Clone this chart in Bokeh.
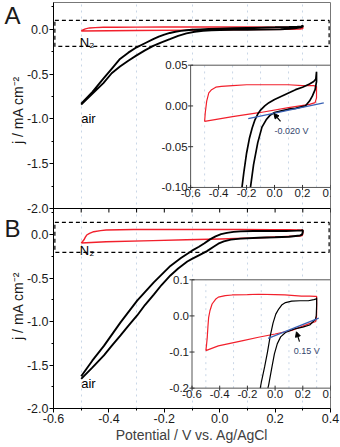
import math
from bokeh.plotting import figure
from bokeh.models import (Range1d, FixedTicker, CustomJSTickFormatter, PrintfTickFormatter,
                          LinearAxis, Arrow, NormalHead, Span)
from bokeh.embed import file_html
from bokeh.resources import INLINE
from bokeh.core.properties import value

FONT = "Liberation Sans"

# ---------------- axis ticks / texts ----------------
x_ticks = [-0.6, -0.4, -0.2, 0.0, 0.2, 0.4]
x_tick_labels = ["-0.6", "-0.4", "-0.2", "0.0", "0.2", "0.4"]
x_minor = [-0.5, -0.3, -0.1, 0.1, 0.3]
x_grid = [-0.5, -0.3, -0.1, 0.1, 0.3]
y_ticks = [-2.0, -1.5, -1.0, -0.5, 0.0]
y_minor = [-1.75, -1.25, -0.75, -0.25, 0.25]
inset_a_yticks = [-0.10, -0.05, 0.00, 0.05]
inset_a_ylabels = ["-0.10", "-0.05", "0.00", "0.05"]
inset_b_yticks = [-0.2, -0.1, 0.0, 0.1]
inset_b_ylabels = ["-0.2", "-0.1", "0.0", "0.1"]
x_title = "Potential / V vs. Ag/AgCl"
y_title = "j / mA cm\u207b\u00b2"
panel_letters = ["A", "B"]

# ---------------- panel A data (j / mA cm-2 vs potential / V) ----------------
a_air_fwd_x = [-0.50, -0.46, -0.42, -0.39, -0.36, -0.33, -0.30, -0.27, -0.24, -0.22, -0.20,
               -0.18, -0.16, -0.14, -0.12, -0.10, -0.07, -0.04, 0.00, 0.05, 0.10, 0.15,
               0.20, 0.25, 0.28, 0.295, 0.30]
a_air_fwd_y = [-0.83, -0.70, -0.55, -0.44, -0.33, -0.26, -0.20, -0.155, -0.11, -0.082, -0.058,
               -0.040, -0.027, -0.017, -0.010, -0.005, 0.000, 0.004, 0.008, 0.012, 0.016, 0.020,
               0.023, 0.027, 0.030, 0.033, 0.042]
a_air_rev_x = [0.30, 0.29, 0.27, 0.25, 0.22, 0.15, 0.10, 0.05, 0.00, -0.03, -0.06, -0.09,
               -0.12, -0.15, -0.18, -0.21, -0.24, -0.27, -0.30, -0.33, -0.36, -0.39, -0.42,
               -0.46, -0.50]
a_air_rev_y = [0.030, 0.020, 0.012, 0.006, 0.000, -0.003, -0.004, -0.006, -0.008, -0.011, -0.017,
               -0.026, -0.045, -0.072, -0.11, -0.145, -0.185, -0.235, -0.29, -0.35, -0.415,
               -0.49, -0.60, -0.72, -0.84]
a_n2_x = [-0.50, -0.495, -0.485, -0.47, -0.45, -0.42, -0.38, -0.30, -0.20, -0.10, 0.00, 0.10,
          0.20, 0.28, 0.30, 0.30, 0.29, 0.25, 0.10, -0.10, -0.30, -0.50]
a_n2_y = [-0.019, -0.008, 0.006, 0.016, 0.020, 0.023, 0.024, 0.025, 0.026, 0.026, 0.026, 0.026,
          0.025, 0.025, 0.024, 0.010, 0.004, 0.002, -0.002, -0.008, -0.013, -0.019]
a_tangent_x = [-0.188, 0.352]
a_tangent_y = [-0.0155, 0.0038]
a_onset_label = "-0.020 V"

# ---------------- panel B data ----------------
b_air_fwd_x = [-0.50, -0.46, -0.418, -0.358, -0.298, -0.238, -0.178, -0.14, -0.10, -0.075,
               -0.055, -0.035, -0.015, 0.005, 0.026, 0.05, 0.075, 0.12, 0.18, 0.24, 0.28,
               0.295, 0.30]
b_air_fwd_y = [-1.63, -1.45, -1.28, -1.01, -0.76, -0.55, -0.36, -0.27, -0.185, -0.14,
               -0.10, -0.055, -0.02, 0.005, 0.019, 0.031, 0.037, 0.041, 0.042, 0.042, 0.045,
               0.047, 0.050]
b_air_rev_x = [0.30, 0.297, 0.29, 0.25, 0.20, 0.14, 0.075, 0.04, 0.015, -0.005, -0.022, -0.046,
               -0.07, -0.10, -0.117, -0.15, -0.178, -0.21, -0.238, -0.27, -0.298, -0.33,
               -0.358, -0.39, -0.418, -0.46, -0.50]
b_air_rev_y = [0.030, 0.0, -0.010, -0.025, -0.031, -0.036, -0.046, -0.058, -0.078, -0.105,
               -0.14, -0.19, -0.23, -0.28, -0.31, -0.39, -0.47, -0.58, -0.69, -0.81, -0.93,
               -1.05, -1.16, -1.28, -1.39, -1.53, -1.66]
b_n2_x = [-0.50, -0.495, -0.49, -0.485, -0.48, -0.47, -0.455, -0.43, -0.41, -0.36, -0.31, -0.20,
          -0.12, 0.00, 0.07, 0.19, 0.25, 0.29, 0.30, 0.30, 0.298, 0.29, 0.243, 0.12, 0.00,
          -0.12, -0.24, -0.41, -0.50]
b_n2_y = [-0.096, -0.08, -0.06, -0.03, -0.005, 0.015, 0.033, 0.046, 0.052, 0.056, 0.058, 0.059,
          0.060, 0.059, 0.058, 0.055, 0.055, 0.054, 0.054, 0.010, -0.010, -0.016, -0.022,
          -0.040, -0.050, -0.059, -0.069, -0.083, -0.096]
b_tangent_x = [-0.05, 0.315]
b_tangent_y = [-0.062, -0.006]
b_onset_label = "0.15 V"

# ---------------- layout ----------------
W, H = 340, 446
BL, BR, BT, BB = 53, 10, 2, 38
FRAME_A_PX, FRAME_B_PX = 206.0, 200.0
FRAC_A = FRAME_A_PX / (FRAME_A_PX + FRAME_B_PX)
FRAC_B = 1 - FRAC_A
X0, X1 = -0.6, 0.4
YMIN, YMAX = -2.0, 0.3
SPAN = YMAX - YMIN
B_START, B_END = YMIN, YMIN + SPAN / FRAC_B
A_START, A_END = YMAX - SPAN / FRAC_A, YMAX


def remap(h_start, h_end, h0, h1, i0, i1):
    k = (i1 - i0) / (h1 - h0)
    return i0 + (h_start - h0) * k, i0 + (h_end - h0) * k


def a_to_b(v):
    return B_START + (v - A_START) / (A_END - A_START) * (B_END - B_START)


p = figure(width=W, height=H, x_range=Range1d(X0, X1), y_range=Range1d(B_START, B_END),
           output_backend="svg", toolbar_location=None,
           min_border_left=BL, min_border_right=BR, min_border_top=BT, min_border_bottom=BB)
p.extra_y_ranges = {"A": Range1d(A_START, A_END)}
p.background_fill_color = "white"
p.border_fill_color = "white"
p.outline_line_color = "#777777"

# insets' ranges
ia_x = remap(X0, X1, -0.105, 0.4, -0.6, 0.4)
ia_y = remap(A_START, A_END, -1.765, -0.40, -0.10, 0.05)
ib_x = remap(X0, X1, -0.10, 0.4, -0.6, 0.4)
ib_y = remap(B_START, B_END, -1.766, -0.52, -0.2, 0.1)
p.extra_x_ranges = {"iax": Range1d(*ia_x), "ibx": Range1d(*ib_x)}
p.extra_y_ranges.update({"iay": Range1d(*ia_y), "iby": Range1d(*ib_y)})

# grid
p.ygrid.visible = False
p.xgrid.ticker = FixedTicker(ticks=x_grid)
p.xgrid.grid_line_color = "#c9d6e6"
p.xgrid.grid_line_dash = "dotted"
p.xgrid.grid_line_width = 1

# axes
xa = p.xaxis[0]
xa.ticker = FixedTicker(ticks=x_ticks, minor_ticks=x_minor)
xa.formatter = PrintfTickFormatter(format="%.1f")
xa.axis_label = x_title
xa.axis_label_text_font = FONT
xa.axis_label_text_font_size = "14px"
xa.axis_label_text_font_style = "normal"
xa.axis_label_text_color = "#404040"
xa.axis_label_standoff = 1
ya = p.yaxis[0]
ya.ticker = FixedTicker(ticks=y_ticks + [a_to_b(v) for v in y_ticks],
                        minor_ticks=y_minor + [a_to_b(v) for v in y_minor])
ya.formatter = CustomJSTickFormatter(
    args=dict(b0=B_START, bs=B_END - B_START, a0=A_START, as_=A_END - A_START, split=YMAX - 1e-6),
    code="""
    let v = tick;
    if (tick > split) { v = a0 + (tick - b0) / bs * as_; }
    let s = v.toFixed(1);
    if (s == "-0.0") { s = "0.0"; }
    return s;
""")
for ax in (xa, ya):
    ax.major_label_text_font = FONT
    ax.major_label_text_font_size = "12.5px"
    ax.major_label_text_color = "#1a1a1a"
    ax.axis_line_color = "black"
    ax.major_tick_line_color = "black"
    ax.minor_tick_line_color = "black"
    ax.major_tick_in = 0
    ax.major_tick_out = 4
    ax.minor_tick_in = 0
    ax.minor_tick_out = 2
    ax.major_label_standoff = 1


def text_axis(ticks, code, args, size, orientation, standoff):
    ax = LinearAxis(ticker=FixedTicker(ticks=ticks),
                    formatter=CustomJSTickFormatter(args=args, code=code),
                    major_label_orientation=orientation, axis_line_color=None,
                    major_tick_line_color=None, minor_tick_line_color=None,
                    major_tick_in=0, major_tick_out=0, minor_tick_in=0, minor_tick_out=0,
                    major_label_standoff=standoff, major_label_text_font=FONT,
                    major_label_text_font_size=size, major_label_text_color="#1a1a1a")
    p.add_layout(ax, "left")


# y titles, one per panel (centred on each panel)
text_axis([a_to_b(-0.9), -0.82], "return t;", dict(t=y_title), "14px", "parallel", -3)
# panel letters
text_axis([a_to_b(0.16), 0.075], "return tick > split ? la : lb;",
          dict(split=YMAX, la=panel_letters[0], lb=panel_letters[1]), "24px", "horizontal", -13)

# separator between the two panels, ticks pointing down into panel B
p.add_layout(Span(location=YMAX, dimension="width", line_color="black", line_width=1))
px_per_b = FRAME_B_PX / SPAN
sep_ticks = sorted(x_ticks + x_minor)
p.segment(x0=sep_ticks, y0=[YMAX] * len(sep_ticks), x1=sep_ticks,
          y1=[YMAX - 4 / px_per_b] * len(sep_ticks), line_color="black", line_width=1)


def main_panel(rng, air_fx, air_fy, air_rx, air_ry, n2x, n2y, box, n2_pos, air_pos):
    kw = {} if rng is None else {"y_range_name": rng}
    p.quad(left=[box[0]], right=[box[1]], bottom=[box[2]], top=[box[3]], fill_alpha=0,
           line_color="black", line_dash="4 3", line_width=1.2, **kw)
    p.line(n2x, n2y, line_color="#f2202c", line_width=1.4, **kw)
    p.line(air_fx + air_rx, air_fy + air_ry, line_color="black", line_width=1.9, **kw)
    p.text(x=[n2_pos[0]], y=[n2_pos[1]], text=["N\u2082"], text_font=value(FONT),
           text_font_size="13px", text_baseline="middle", text_align="left", **kw)
    p.text(x=[air_pos[0]], y=[air_pos[1]], text=["air"], text_font=value(FONT),
           text_font_size="13px", text_baseline="middle", text_align="left", **kw)


main_panel("A", a_air_fwd_x, a_air_fwd_y, a_air_rev_x, a_air_rev_y, a_n2_x, a_n2_y,
           (-0.595, 0.395, -0.19, 0.10), (-0.505, -0.15), (-0.5, -1.0))
main_panel(None, b_air_fwd_x, b_air_fwd_y, b_air_rev_x, b_air_rev_y, b_n2_x, b_n2_y,
           (-0.595, 0.395, -0.205, 0.14), (-0.505, -0.185), (-0.5, -1.71))


def clip_y(xs, ys, lo, hi):
    out_x, out_y, cx, cy = [], [], [], []
    for i in range(len(xs)):
        x, y = xs[i], ys[i]
        inside = lo <= y <= hi
        if i > 0:
            px_, py_ = xs[i - 1], ys[i - 1]
            pin = lo <= py_ <= hi
            if pin != inside:
                bound = lo if (y < lo or py_ < lo) else hi
                t = (bound - py_) / (y - py_)
                xi = px_ + t * (x - px_)
                cx.append(xi)
                cy.append(bound)
                if pin:
                    out_x.append(cx)
                    out_y.append(cy)
                    cx, cy = [], []
        if inside:
            cx.append(x)
            cy.append(y)
    if cx:
        out_x.append(cx)
        out_y.append(cy)
    return out_x, out_y


def inset(xr, yr, yticks, ylabels, air_x, air_y, n2x, n2y, tx, ty, note, note_pos, arr, air_w):
    kw = dict(x_range_name=xr, y_range_name=yr)
    lo, hi = yticks[0], yticks[-1]
    p.quad(left=[X0], right=[X1], bottom=[lo], top=[hi], fill_color="white", line_color=None, **kw)
    p.segment(x0=x_grid, y0=[lo] * len(x_grid), x1=x_grid, y1=[hi] * len(x_grid),
              line_color="#c9d6e6", line_dash="dotted", line_width=1, **kw)
    cx, cy = clip_y(n2x, n2y, lo, hi)
    p.multi_line(cx, cy, line_color="#f2202c", line_width=1.2, **kw)
    cx, cy = clip_y(air_x, air_y, lo, hi)
    p.multi_line(cx, cy, line_color="black", line_width=air_w, **kw)
    p.line(tx, ty, line_color="#3a62b5", line_width=1.3, **kw)
    p.add_layout(Arrow(end=NormalHead(size=5, fill_color="black", line_color="black", line_width=1),
                       x_start=arr[0], y_start=arr[1], x_end=arr[2], y_end=arr[3],
                       line_color="black", line_width=1.2, **kw))
    p.text(x=[note_pos[0]], y=[note_pos[1]], text=[note], text_font=value(FONT),
           text_font_size="9px", text_color="#34466e", text_baseline="middle", **kw)
    p.quad(left=[X0], right=[X1], bottom=[lo], top=[hi], fill_alpha=0, line_color="#555555",
           line_width=1, **kw)
    p.scatter(x=[X0] * len(yticks), y=yticks, marker="dash", size=5, line_color="#333333", **kw)
    p.scatter(x=x_ticks, y=[lo] * len(x_ticks), marker="dash", angle=math.pi / 2, size=5,
              line_color="#333333", **kw)
    p.text(x=[X0] * len(yticks), y=yticks, text=ylabels, text_font=value(FONT),
           text_font_size="11.5px", text_align="right", text_baseline="middle", x_offset=-3,
           text_color="#1a1a1a", **kw)
    p.text(x=x_ticks, y=[lo] * len(x_ticks), text=x_tick_labels, text_font=value(FONT),
           text_font_size="11.5px", text_align="center", text_baseline="top", y_offset=2,
           text_color="#1a1a1a", **kw)


inset("iax", "iay", inset_a_yticks, inset_a_ylabels, a_air_fwd_x + a_air_rev_x,
      a_air_fwd_y + a_air_rev_y, a_n2_x, a_n2_y, a_tangent_x, a_tangent_y, a_onset_label,
      (0.0, -0.031), (0.043, -0.019, -0.005, -0.0093), 1.7)
inset("ibx", "iby", inset_b_yticks, inset_b_ylabels, b_air_fwd_x + b_air_rev_x,
      b_air_fwd_y + b_air_rev_y, b_n2_x, b_n2_y, b_tangent_x, b_tangent_y, b_onset_label,
      (0.135, -0.096), (0.176, -0.071, 0.154, -0.044), 1.2)

open("out.html", "w").write(file_html(p, INLINE))
